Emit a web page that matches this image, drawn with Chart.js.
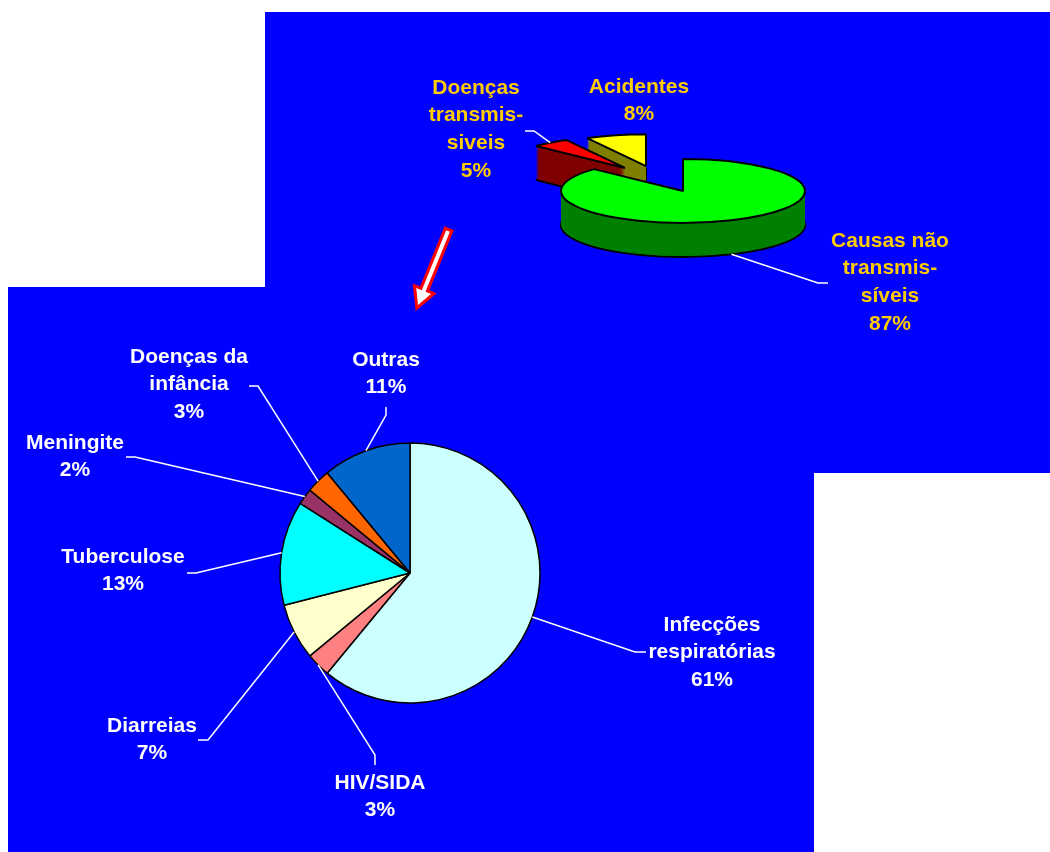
<!DOCTYPE html>
<html>
<head>
<meta charset="utf-8">
<title>Causas de morte</title>
<script src="https://cdn.jsdelivr.net/npm/chart.js@4.4.1/dist/chart.umd.min.js"></script>
<style>
  body { margin: 0; background: #fff; }
  #wrap { position: relative; width: 1050px; height: 852px; overflow: hidden; }
  .panel { position: absolute; background: #0000ff; }
  #panelTop { left: 265px; top: 12px; width: 785px; height: 461px; }
  #panelBottom { left: 8px; top: 287px; width: 806px; height: 565px; }
  canvas { position: absolute; left: 0; top: 0; }
</style>
</head>
<body>
<div id="wrap">
  <div class="panel" id="panelTop"></div>
  <div class="panel" id="panelBottom"></div>
  <canvas id="topChart" width="1050" height="852"></canvas>
  <canvas id="bottomChart" width="1050" height="852"></canvas>
  <canvas id="arrow" width="1050" height="852"></canvas>
</div>
<script>
// top pie: all causes (%)
const topCategories = [["Causas não", "transmis-", "síveis"], ["Doenças", "transmis-", "siveis"], ["Acidentes"]];
const topValues = [87, 5, 8];
const topColors = ["#00ff00", "#ff0000", "#ffff00"];
const topSideColors = ["#008000", "#800000", "#808000"];

// bottom pie: communicable diseases (%)
const bottomCategories = [["Infecções", "respiratórias"], ["HIV/SIDA"], ["Diarreias"], ["Tuberculose"],
                          ["Meningite"], ["Doenças da", "infância"], ["Outras"]];
const bottomValues = [61, 3, 7, 13, 2, 3, 11];
const bottomColors = ["#ccffff", "#ff8080", "#ffffcc", "#00ffff", "#993366", "#ff6600", "#0066cc"];

// label layout: text centre + short elbow of the leader line
const topLayout = [
  { x: 890, y: 241, elbow: [818, 283, 828, 283] },
  { x: 476, y: 88, elbow: [534, 131, 525, 131] },
  { x: 639, y: 87, elbow: null }
];
const bottomLayout = [
  { x: 712, y: 625, elbow: [635, 652, 646, 652] },
  { x: 380, y: 783, elbow: [375, 755, 375, 765] },
  { x: 152, y: 726, elbow: [208, 740, 198, 740] },
  { x: 123, y: 557, elbow: [196, 573, 187, 573] },
  { x: 75, y: 443, elbow: [135, 457, 126, 457] },
  { x: 189, y: 357, elbow: [258, 386, 249, 386] },
  { x: 386, y: 360, elbow: [386, 415, 386, 407] }
];

const LABEL_FONT = 'bold 21px "Liberation Sans", Arial, sans-serif';
const LINE_H = 27.6;

// 3d look of the top pie
const TILT = 0.262;
const DEPTH = 34;
const TOP_CY = 191;
// pulled-out slices, shift in untilted px
const explodeShift = [[0, 0], [-58, -88], [-37, -95]];

function drawLabel(ctx, lines, lay) {
  lines.forEach((t, j) => ctx.fillText(t, lay.x, lay.y + j * LINE_H));
}

function drawLeader(ctx, sx, sy, lay) {
  if (!lay.elbow) return;
  ctx.beginPath();
  ctx.moveTo(sx, sy);
  ctx.lineTo(lay.elbow[0], lay.elbow[1]);
  ctx.lineTo(lay.elbow[2], lay.elbow[3]);
  ctx.stroke();
}

const pie3d = {
  id: "pie3d",
  beforeDatasetsDraw(chart) {
    const ctx = chart.ctx;
    const arcs = chart.getDatasetMeta(0).data;
    const cy = arcs[0].y;
    // keep border width unscaled by the tilt
    const origStroke = ctx.stroke;
    ctx.stroke = function () {
      this.save();
      this.setTransform(1, 0, 0, 1, 0, 0);
      origStroke.apply(this, arguments);
      this.restore();
    };
    // back slices first, green one last
    [2, 1, 0].forEach(i => {
      const arc = arcs[i];
      const [ex, ey] = explodeShift[i];
      const side = Object.create(arc);
      for (let k = DEPTH; k >= 1; k--) {
        side.options = Object.assign({}, arc.options, {
          backgroundColor: topSideColors[i],
          borderWidth: k === DEPTH ? 2 : 0
        });
        ctx.save();
        ctx.setTransform(1, 0, 0, TILT, 0, TOP_CY - cy * TILT + k);
        ctx.translate(ex, ey);
        side.draw(ctx);
        ctx.restore();
      }
      ctx.save();
      ctx.setTransform(1, 0, 0, TILT, 0, TOP_CY - cy * TILT);
      ctx.translate(ex, ey);
      arc.draw(ctx);
      ctx.restore();
    });
    delete ctx.stroke;
    return false;
  },
  afterDraw(chart) {
    const ctx = chart.ctx;
    const arcs = chart.getDatasetMeta(0).data;
    const cy = arcs[0].y;
    ctx.save();
    ctx.strokeStyle = "#ffffff";
    ctx.lineWidth = 1.5;
    ctx.fillStyle = "#ffcc00";
    ctx.font = LABEL_FONT;
    ctx.textAlign = "center";
    ctx.textBaseline = "middle";
    arcs.forEach((arc, i) => {
      const mid = (arc.startAngle + arc.endAngle) / 2;
      const ux = arc.x + explodeShift[i][0] + Math.cos(mid) * arc.outerRadius;
      const uy = arc.y + explodeShift[i][1] + Math.sin(mid) * arc.outerRadius;
      // front slice: line starts at the bottom of the wall
      const sy = TOP_CY + (uy - cy) * TILT + (i === 0 ? DEPTH : 0);
      drawLeader(ctx, ux, sy, topLayout[i]);
      drawLabel(ctx, topCategories[i].concat(topValues[i] + "%"), topLayout[i]);
    });
    ctx.restore();
  }
};

const leaderLines = {
  id: "leaderLines",
  afterDatasetsDraw(chart) {
    const ctx = chart.ctx;
    const arcs = chart.getDatasetMeta(0).data;
    ctx.save();
    ctx.strokeStyle = "#ffffff";
    ctx.lineWidth = 1.5;
    ctx.fillStyle = "#ffffff";
    ctx.font = LABEL_FONT;
    ctx.textAlign = "center";
    ctx.textBaseline = "middle";
    arcs.forEach((arc, i) => {
      const mid = (arc.startAngle + arc.endAngle) / 2;
      drawLeader(ctx, arc.x + Math.cos(mid) * arc.outerRadius, arc.y + Math.sin(mid) * arc.outerRadius, bottomLayout[i]);
      drawLabel(ctx, bottomCategories[i].concat(bottomValues[i] + "%"), bottomLayout[i]);
    });
    ctx.restore();
  }
};

new Chart(document.getElementById("topChart"), {
  type: "pie",
  data: {
    labels: topCategories.map(c => c.join(" ")),
    datasets: [{
      data: topValues,
      backgroundColor: topColors,
      borderColor: "#000000",
      borderWidth: 2,
      radius: 122
    }]
  },
  options: {
    responsive: false,
    animation: false,
    layout: { padding: { left: 316, right: 0, top: 0, bottom: 0 } },
    plugins: { legend: { display: false }, tooltip: { enabled: false } }
  },
  plugins: [pie3d]
});

new Chart(document.getElementById("bottomChart"), {
  type: "pie",
  data: {
    labels: bottomCategories.map(c => c.join(" ")),
    datasets: [{
      data: bottomValues,
      backgroundColor: bottomColors,
      borderColor: "#000000",
      borderWidth: 1.5,
      radius: 130
    }]
  },
  options: {
    responsive: false,
    animation: false,
    layout: { padding: { left: 0, right: 230, top: 294, bottom: 0 } },
    plugins: { legend: { display: false }, tooltip: { enabled: false } }
  },
  plugins: [leaderLines]
});

// red/white arrow between the two pies
(function drawArrow() {
  const ctx = document.getElementById("arrow").getContext("2d");
  const x0 = 448, y0 = 231, x1 = 418, y1 = 305;
  const len = Math.hypot(x1 - x0, y1 - y0);
  ctx.save();
  ctx.translate(x0, y0);
  ctx.rotate(Math.atan2(y1 - y0, x1 - x0));
  ctx.beginPath();
  ctx.moveTo(0, -2);
  ctx.lineTo(len - 15, -2);
  ctx.lineTo(len - 15, -8);
  ctx.lineTo(len, 0);
  ctx.lineTo(len - 15, 8);
  ctx.lineTo(len - 15, 2);
  ctx.lineTo(0, 2);
  ctx.closePath();
  ctx.lineJoin = "miter";
  ctx.strokeStyle = "#ff0000";
  ctx.lineWidth = 6;
  ctx.stroke();
  ctx.fillStyle = "#ffffff";
  ctx.fill();
  ctx.restore();
})();
</script>
</body>
</html>
